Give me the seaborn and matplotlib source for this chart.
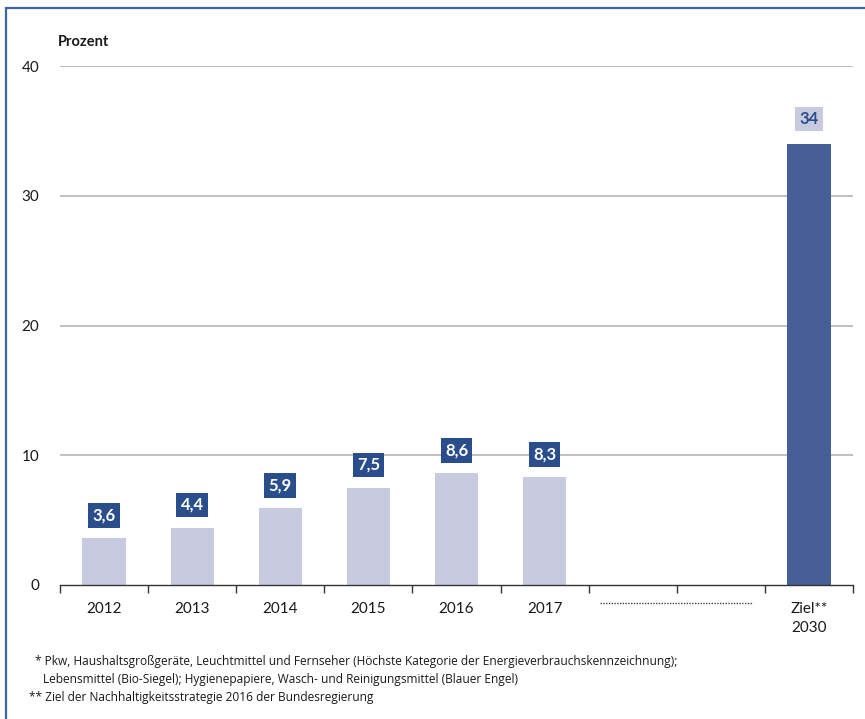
import matplotlib
matplotlib.use("Agg")
import matplotlib.pyplot as plt
from matplotlib.lines import Line2D
import numpy as np
import pandas as pd
import seaborn as sns

# ---- data ----
categories = ["2012", "2013", "2014", "2015", "2016", "2017", "gap1", "gap2", "Ziel2030"]
tick_labels = ["2012", "2013", "2014", "2015", "2016", "2017", "", "", "Ziel**\n2030"]
values = [3.6, 4.4, 5.9, 7.5, 8.6, 8.3, np.nan, np.nan, 34]
value_labels = ["3,6", "4,4", "5,9", "7,5", "8,6", "8,3", "", "", "34"]
y_ticks = [0, 10, 20, 30, 40]
footnotes = [
    "* Pkw, Haushaltsgroßgeräte, Leuchtmittel und Fernseher (Höchste Kategorie der Energieverbrauchskennzeichnung);",
    "Lebensmittel (Bio-Siegel); Hygienepapiere, Wasch- und Reinigungsmittel (Blauer Engel)",
    "** Ziel der Nachhaltigkeitsstrategie 2016 der Bundesregierung",
]

# ---- style ----
light = "#c8cae0"
dark_bar = "#475f97"
label_dark = "#2a4e8c"
grid_col = "#b4b4b4"
frame_col = "#3a65a0"
text_col = "#1a1a1a"

sns.set_theme(style="white")
plt.rcParams["font.family"] = ["Lato", "DejaVu Sans"]

fig = plt.figure(figsize=(8.65, 7.19), dpi=100)
W, H = 865, 719
ax = fig.add_axes([60 / W, 1 - 585 / H, (853 - 60) / W, (585 - 66) / H])

df = pd.DataFrame({"cat": categories, "val": values})
colors = [light] * 8 + [dark_bar]
sns.barplot(data=df, x="cat", y="val", order=categories, hue="cat",
            palette=dict(zip(categories, colors)), legend=False,
            width=0.49, ax=ax, saturation=1, linewidth=0)

ax.set_ylim(0, 40)
ax.set_xlim(-0.5, len(categories) - 0.5)
ax.set_yticks(y_ticks)
ax.set_yticklabels([str(t) for t in y_ticks], fontsize=11, color=text_col)
ax.set_xticks(range(len(categories)))
ax.set_xticklabels(tick_labels, fontsize=11, color=text_col, linespacing=1.45)
ax.set_xticks(np.arange(-0.5, len(categories), 1.0), minor=True)
ax.tick_params(axis="x", which="major", length=0, pad=12)
ax.tick_params(axis="x", which="minor", bottom=True, length=6, width=1,
               color="#333333", direction="out")
ax.tick_params(axis="y", length=0, pad=15)
ax.set_xlabel("")
ax.set_ylabel("")

for s in ["top", "right", "left"]:
    ax.spines[s].set_visible(False)
ax.spines["bottom"].set_color("#333333")
ax.spines["bottom"].set_linewidth(1.0)
ax.spines["bottom"].set_zorder(5)

for t in y_ticks[1:]:
    ax.axhline(t, color=grid_col, lw=1.2, zorder=0)

# value labels
for i, (v, lab) in enumerate(zip(values, value_labels)):
    if not lab:
        continue
    if i == len(values) - 1:
        fc, tc, off = light, label_dark, 18
    else:
        fc, tc, off = label_dark, "white", 16.5
    ax.annotate(lab, xy=(i, v), xytext=(0, off), textcoords="offset points",
                ha="center", va="center", fontsize=12, fontweight="bold", color=tc,
                bbox=dict(boxstyle="square,pad=0.25", fc=fc, ec="none"), zorder=6)

# dotted line for the gap
trans = ax.get_xaxis_transform()
ax.plot([5.63, 7.37], [-18 / 519, -18 / 519], transform=trans, clip_on=False,
        color="#444444", lw=1.0, linestyle=(0, (1, 1)))

# y label
fig.text(58 / W, 1 - 42 / H, "Prozent", fontsize=10.5, fontweight="bold",
         color=text_col, ha="left", va="center")

# footnotes
fn_kw = dict(fontsize=8.55, color=text_col, ha="left", va="center",
             family=["Open Sans", "DejaVu Sans"])
fig.text(35 / W, 1 - 662 / H, footnotes[0], **fn_kw)
fig.text(43 / W, 1 - 679 / H, footnotes[1], **fn_kw)
fig.text(29 / W, 1 - 697 / H, footnotes[2], **fn_kw)

# frame lines (top and left)
fig.add_artist(Line2D([6 / W, 1], [1 - 8 / H, 1 - 8 / H], transform=fig.transFigure,
                      color=frame_col, lw=1.6))
fig.add_artist(Line2D([6 / W, 6 / W], [0, 1 - 8 / H], transform=fig.transFigure,
                      color=frame_col, lw=1.6))

fig.savefig("out.png", dpi=100, facecolor="white")
